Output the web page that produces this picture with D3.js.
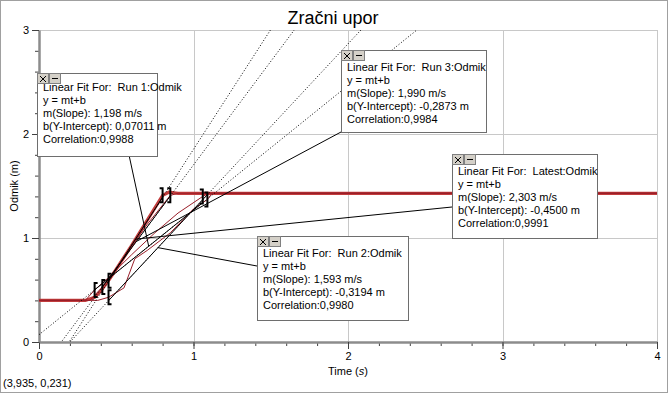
<!DOCTYPE html>
<html>
<head>
<meta charset="utf-8">
<script src="https://cdn.jsdelivr.net/npm/d3@7"></script>
<style>
  body { margin: 0; background: #fff; }
  svg text { font-family: "Liberation Sans", Arial, sans-serif; fill: #000; }
  .grid line { stroke: #c8c8c8; }
  .axis path.domain { stroke: #8c8c8c; stroke-width: 2.5; }
  .axis line { stroke: #404040; }
  .axis text { font-size: 11px; }
  .fit-text { white-space: pre; }
</style>
</head>
<body>
<svg id="chart"></svg>
<script>
// data (time in s, odmik in m)
const latestT = [0, 0.30, 0.36, 0.40, 0.45, 0.50, 0.60, 0.70, 0.80, 0.84, 0.90, 4.0];
const latestY = [0.40, 0.40, 0.43, 0.49, 0.59, 0.70, 0.93, 1.17, 1.41, 1.44, 1.43, 1.43];
const run1T = [0, 0.30, 0.36, 0.45, 0.60, 0.75, 0.90, 1.06, 1.10, 4.0];
const run1Y = [0.40, 0.40, 0.50, 0.62, 0.84, 1.05, 1.24, 1.40, 1.43, 1.43];
const run2T = [0, 0.38, 0.45, 0.55, 0.62, 0.70, 0.85, 1.00, 1.09, 1.12, 4.0];
const run2Y = [0.40, 0.40, 0.43, 0.52, 0.80, 0.88, 1.05, 1.28, 1.37, 1.43, 1.43];
const run3T = [0, 0.33, 0.41, 0.50, 0.60, 0.70, 0.85, 0.90, 4.0];
const run3Y = [0.40, 0.40, 0.53, 0.70, 0.92, 1.13, 1.41, 1.43, 1.43];

// linear fits
const fitNames = ["Run 1", "Run 3", "Latest", "Run 2"];
const fitSlopes = [1.198, 1.990, 2.303, 1.593];
const fitIntercepts = [0.07011, -0.2873, -0.4500, -0.3194];
const fitCorrelations = [0.9988, 0.9984, 0.9991, 0.9980];
const fitStarts = [0.36, 0.41, 0.45, 0.45];
const fitEnds = [1.06, 0.85, 0.80, 1.09];

const xMajorTicks = [0, 1, 2, 3, 4];
const yMajorTicks = [0, 1, 2, 3];

const W = 668, H = 393;
const svg = d3.select("#chart").attr("width", W).attr("height", H);

// outer frame
svg.append("rect")
    .attr("x", 0.5).attr("y", 0.5)
    .attr("width", W - 1).attr("height", H - 1)
    .attr("fill", "#fff").attr("stroke", "#a0a0a0");

const x = d3.scaleLinear().domain([0, 4]).range([39, 657]);
const y = d3.scaleLinear().domain([0, 3]).range([342, 30]);

svg.append("text")
    .attr("x", 333).attr("y", 23.5)
    .attr("text-anchor", "middle")
    .style("font-size", "18px")
    .text("Zračni upor");

// grid
const grid = svg.append("g").attr("class", "grid");
grid.selectAll(".gx").data(xMajorTicks.slice(1)).join("line")
    .attr("x1", d => Math.round(x(d)) + 0.5).attr("x2", d => Math.round(x(d)) + 0.5)
    .attr("y1", y(3)).attr("y2", y(0));
grid.selectAll(".gy").data(yMajorTicks.slice(1)).join("line")
    .attr("x1", x(0)).attr("x2", x(4))
    .attr("y1", d => Math.round(y(d)) + 0.5).attr("y2", d => Math.round(y(d)) + 0.5);

// axes: minor ticks then major ticks with labels
const minorX = d3.range(0, 4.001, 0.2);
const minorY = d3.range(0, 3.001, 0.2);
svg.append("g").attr("class", "axis")
    .attr("transform", `translate(0,${y(0)})`)
    .call(d3.axisBottom(x).tickValues(minorX).tickSize(4).tickFormat(""))
    .call(g => g.select(".domain").remove());
svg.append("g").attr("class", "axis")
    .attr("transform", `translate(${x(0)},0)`)
    .call(d3.axisLeft(y).tickValues(minorY).tickSize(4).tickFormat(""))
    .call(g => g.select(".domain").remove());
svg.append("g").attr("class", "axis")
    .attr("transform", `translate(0,${y(0)})`)
    .call(d3.axisBottom(x).tickValues(xMajorTicks).tickSize(7).tickSizeOuter(0).tickFormat(d3.format("d")));
svg.append("g").attr("class", "axis")
    .attr("transform", `translate(${x(0)},0)`)
    .call(d3.axisLeft(y).tickValues(yMajorTicks).tickSize(7).tickSizeOuter(0).tickFormat(d3.format("d")));

const timeLabel = svg.append("text")
    .attr("x", 348).attr("y", 375)
    .attr("text-anchor", "middle")
    .style("font-size", "11px");
timeLabel.append("tspan").text("Time (");
timeLabel.append("tspan").style("font-style", "italic").text("s");
timeLabel.append("tspan").text(")");

svg.append("text")
    .attr("transform", "translate(18,186) rotate(-90)")
    .attr("text-anchor", "middle")
    .style("font-size", "11px")
    .text("Odmik (m)");

svg.append("text")
    .attr("x", 3).attr("y", 387)
    .style("font-size", "11px")
    .text("(3,935, 0,231)");

// clip to plot area
svg.append("clipPath").attr("id", "plot-clip")
    .append("rect")
    .attr("x", x(0)).attr("y", y(3))
    .attr("width", x(4) - x(0)).attr("height", y(0) - y(3));
const plot = svg.append("g").attr("clip-path", "url(#plot-clip)");

const line = d3.line().x(d => x(d[0])).y(d => y(d[1]));
const zip = (ts, ys) => ts.map((t, i) => [t, ys[i]]);
const runs = [zip(run1T, run1Y), zip(run3T, run3Y), zip(latestT, latestY), zip(run2T, run2Y)];

plot.append("path")
    .attr("d", line(runs[2]))
    .attr("fill", "none").attr("stroke", "#c23c3c").attr("stroke-width", 3.2);
[0, 1, 3].forEach(i => {
    plot.append("path")
        .attr("d", line(runs[i]))
        .attr("fill", "none").attr("stroke", "#9a1f2a").attr("stroke-width", 1);
});

// fit lines: dotted across the plot, solid within the selected range
const fits = fitNames.map((name, i) => ({
    name, m: fitSlopes[i], b: fitIntercepts[i], r: fitCorrelations[i],
    t0: fitStarts[i], t1: fitEnds[i], data: runs[i]
}));

plot.selectAll(".fit-dot").data(fits).join("line")
    .attr("x1", x(0)).attr("y1", d => y(d.b))
    .attr("x2", x(4)).attr("y2", d => y(d.m * 4 + d.b))
    .attr("stroke", "#000").attr("stroke-width", 1)
    .attr("stroke-dasharray", "1,2");

plot.selectAll(".fit-solid").data(fits).join("line")
    .attr("x1", d => x(d.t0)).attr("y1", d => y(d.m * d.t0 + d.b))
    .attr("x2", d => x(d.t1)).attr("y2", d => y(d.m * d.t1 + d.b))
    .attr("stroke", "#000").attr("stroke-width", 1);

// brackets at the ends of each selected range
const valueAt = (data, t) => {
    const ts = data.map(d => d[0]);
    const i = Math.max(1, d3.bisectLeft(ts, t));
    const a = data[i - 1], b = data[i];
    return a[1] + (b[1] - a[1]) * (t - a[0]) / (b[0] - a[0]);
};
fits.forEach(f => {
    const xa = x(f.t0), ya = y(valueAt(f.data, f.t0));
    const xb = x(f.t1), yb = y(valueAt(f.data, f.t1));
    svg.append("path")
        .attr("d", `M${xa + 3},${ya - 7}H${xa}V${ya + 7}H${xa + 3}`)
        .attr("fill", "none").attr("stroke", "#000").attr("stroke-width", 2);
    svg.append("path")
        .attr("d", `M${xb - 3},${yb - 7}H${xb}V${yb + 7}H${xb - 3}`)
        .attr("fill", "none").attr("stroke", "#000").attr("stroke-width", 2);
});

// annotation boxes (layout only)
const boxes = [
    { left: 37, top: 73, width: 120, height: 83, ax: 129, ay: 155, first: 18 },
    { left: 341, top: 50, width: 145, height: 82, ax: 341, ay: 132, first: 21 },
    { left: 452, top: 154, width: 145, height: 84, ax: 452, ay: 207, first: 21 },
    { left: 257, top: 236, width: 151, height: 84, ax: 257, ay: 266, first: 21 }
];
const fmt = v => v.toPrecision(4).replace(".", ",");

fits.forEach((f, i) => {
    const bx = boxes[i];
    const tm = (f.t0 + f.t1) / 2;
    svg.append("line")
        .attr("x1", x(tm)).attr("y1", y(f.m * tm + f.b))
        .attr("x2", bx.ax).attr("y2", bx.ay)
        .attr("stroke", "#000").attr("stroke-width", 1);

    const g = svg.append("g").attr("transform", `translate(${bx.left},${bx.top})`);
    g.append("rect")
        .attr("x", 0.5).attr("y", 0.5)
        .attr("width", bx.width).attr("height", bx.height)
        .attr("fill", "#fff").attr("stroke", "#6e6e6e");

    const lines = [
        `Linear Fit For:  ${f.name}:Odmik`,
        "y = mt+b",
        `m(Slope): ${fmt(f.m)} m/s`,
        `b(Y-Intercept): ${fmt(f.b)} m`,
        `Correlation:${fmt(f.r)}`
    ];
    g.selectAll("text").data(lines).join("text")
        .attr("class", "fit-text")
        .attr("x", 6).attr("y", (d, j) => bx.first + j * 13)
        .style("font-size", "11px")
        .text(d => d);

    // close / minimise buttons
    [0, 12].forEach((ox, k) => {
        g.append("rect")
            .attr("x", ox + 0.5).attr("y", 0.5)
            .attr("width", 11).attr("height", 10)
            .attr("fill", "#d4d0c8").attr("stroke", "#808080");
        if (k === 0) {
            g.append("path").attr("d", `M${ox + 3},3L${ox + 9},9M${ox + 9},3L${ox + 3},9`)
                .attr("stroke", "#000").attr("stroke-width", 1);
        } else {
            g.append("path").attr("d", `M${ox + 3},5.5H${ox + 9}`)
                .attr("stroke", "#000").attr("stroke-width", 1);
        }
    });
});
</script>
</body>
</html>
